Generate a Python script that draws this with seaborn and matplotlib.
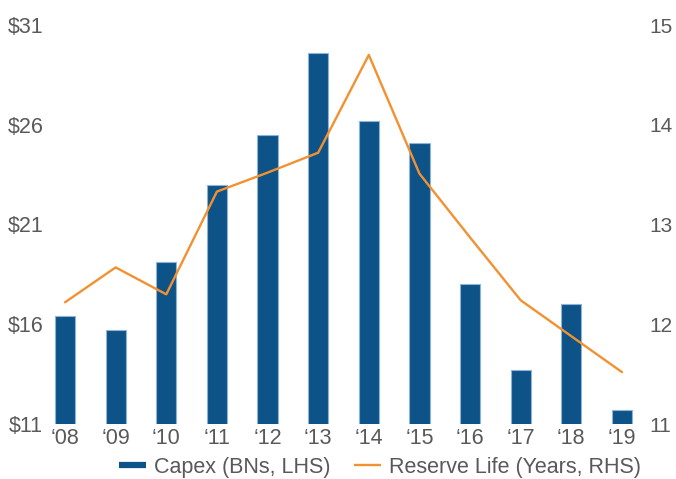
import numpy as np
import pandas as pd
import matplotlib
matplotlib.use("Agg")
import matplotlib.pyplot as plt
import seaborn as sns
from matplotlib.lines import Line2D

years = ["\u201808", "\u201809", "\u201810", "\u201811", "\u201812", "\u201813",
         "\u201814", "\u201815", "\u201816", "\u201817", "\u201818", "\u201819"]
capex = [16.4, 15.7, 19.1, 23.0, 25.5, 29.6, 26.2, 25.1, 18.0, 13.7, 17.0, 11.7]
reserve_life = [12.22, 12.57, 12.30, 13.33, 13.52, 13.72, 14.70, 13.51, 12.87, 12.24, 11.88, 11.52]
left_ticks = [11, 16, 21, 26, 31]
left_labels = ["$11", "$16", "$21", "$26", "$31"]
right_ticks = [11, 12, 13, 14, 15]
legend_labels = ["Capex (BNs, LHS)", "Reserve Life (Years, RHS)"]

BLUE = "#0E5388"
EDGE = "#8DB4D8"
ORANGE = "#F39130"
GREY = "#595959"

sns.set_theme(style="white")
plt.rcParams["font.family"] = ["Liberation Sans", "DejaVu Sans"]

W, H = 676, 479
fig = plt.figure(figsize=(W / 100, H / 100), dpi=100)
ax_left_px, ax_right_px = 46, 647
ax_top_px, ax_bot_px = 25, 424
ax = fig.add_axes([ax_left_px / W, 1 - ax_bot_px / H,
                   (ax_right_px - ax_left_px) / W, (ax_bot_px - ax_top_px) / H])

df = pd.DataFrame({"year": years, "capex": capex, "life": reserve_life})
sns.barplot(data=df, x="year", y="capex", ax=ax, color=BLUE, saturation=1,
            width=0.4, edgecolor=EDGE, linewidth=0.8)

ax2 = ax.twinx()
sns.lineplot(x=np.arange(len(years)), y=df["life"], ax=ax2, color=ORANGE, linewidth=1.7)

step = 50.6
x0 = 65
ax.set_xlim(-(x0 - ax_left_px) / step, 11 + (ax_right_px - 622) / step)
ax.set_ylim(11, 31)
ax2.set_ylim(11, 15)

ax.set_yticks(left_ticks)
ax.set_yticklabels(left_labels)
ax2.set_yticks(right_ticks)
ax2.set_yticklabels([str(t) for t in right_ticks])

for a in (ax, ax2):
    for s in a.spines.values():
        s.set_visible(False)
    a.set_xlabel("")
    a.set_ylabel("")
    a.tick_params(length=0, colors=GREY, labelsize=15.5)
ax.tick_params(axis="y", pad=2)
ax.tick_params(axis="x", pad=3)
ax2.tick_params(axis="y", pad=2, labelsize=15)
ax.grid(False)
ax2.grid(False)

handles = [Line2D([0], [0], color=BLUE, linewidth=4.5, solid_capstyle="butt"),
           Line2D([0], [0], color=ORANGE, linewidth=1.7, solid_capstyle="butt")]
fig.legend(handles, legend_labels, loc="center", ncol=2,
           bbox_to_anchor=(380 / W, 1 - 467 / H), frameon=False,
           fontsize=15.5, labelcolor=GREY, handlelength=1.25,
           handletextpad=0.38, columnspacing=1.1, borderpad=0, borderaxespad=0)

fig.savefig("out.png", dpi=100, facecolor="white")
